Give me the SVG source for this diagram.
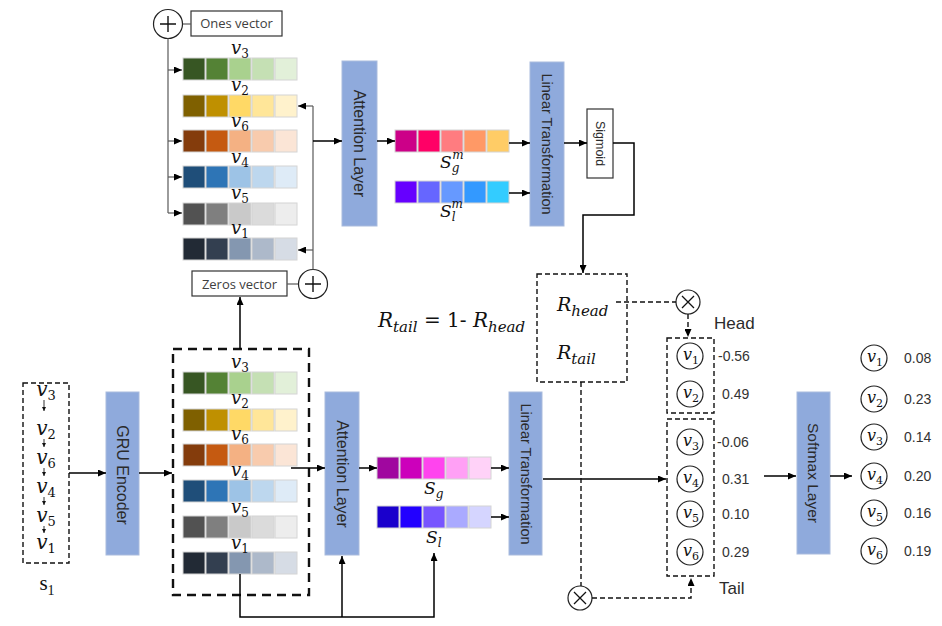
<svg xmlns="http://www.w3.org/2000/svg" width="942" height="626" viewBox="0 0 942 626">
<defs>
<style>
.blk{fill:#8faadc;stroke:#a9bbdd;stroke-width:1}
.bt{font-family:"Liberation Sans","Noto Sans",sans-serif;fill:#2b2b2b}
.gt{font-family:"Open Sans","Noto Sans",sans-serif;fill:#404040;font-size:13px}
.num{font-family:"Liberation Sans","Noto Sans",sans-serif;fill:#333;font-size:14px}
.m{font-family:"DejaVu Serif","Liberation Serif",serif;font-style:italic;fill:#111}
.ln{stroke:#000;stroke-width:1.5;fill:none}
.gl{stroke:#595959;stroke-width:1.2;fill:none}
.ds{stroke:#111;stroke-width:1.4;stroke-dasharray:5 3;fill:none}
.bx{fill:#fff;stroke:#333;stroke-width:1.2}
.cb{fill:none;stroke:#222;stroke-width:1.2}
.cell rect{stroke:#d4d4d4;stroke-width:1}
</style>
<marker id="ah" viewBox="0 0 8 7" refX="8" refY="3.5" markerWidth="8" markerHeight="7" markerUnits="userSpaceOnUse" orient="auto"><path d="M0,0 L8,3.5 L0,7 z" fill="#000"/></marker>
<marker id="as" viewBox="0 0 5 5" refX="5" refY="2.5" markerWidth="4" markerHeight="4" markerUnits="userSpaceOnUse" orient="auto"><path d="M0,0 L5,2.5 L0,5 z" fill="#111"/></marker>
</defs>
<rect width="942" height="626" fill="#fff"/>

<g id="ones">
<circle cx="168" cy="24" r="14.5" class="cb"/>
<path d="M160,24 H176 M168,16 V32" stroke="#111" stroke-width="1.4"/>
<rect x="191" y="11" width="91" height="25" class="bx"/>
<text x="236.5" y="28" class="gt" text-anchor="middle">Ones vector</text>
</g>
<g id="zeros">
<circle cx="313" cy="284" r="14.5" class="cb"/>
<path d="M305,284 H321 M313,276 V292" stroke="#111" stroke-width="1.4"/>
<rect x="192" y="271" width="95" height="25" class="bx"/>
<text x="239.5" y="288.5" class="gt" text-anchor="middle">Zeros vector</text>
</g>

<g id="top-rows">
<g class="cell" transform="translate(183,58)"><rect x="0" width="22" height="22" fill="#375623"/><rect x="23" width="22" height="22" fill="#548235"/><rect x="46" width="22" height="22" fill="#a9d18e"/><rect x="69" width="22" height="22" fill="#c5e0b4"/><rect x="92" width="22" height="22" fill="#e2f0d9"/></g>
<g class="cell" transform="translate(183,95)"><rect x="0" width="22" height="22" fill="#7f6000"/><rect x="23" width="22" height="22" fill="#bf9000"/><rect x="46" width="22" height="22" fill="#ffd966"/><rect x="69" width="22" height="22" fill="#ffe699"/><rect x="92" width="22" height="22" fill="#fff2cc"/></g>
<g class="cell" transform="translate(183,130)"><rect x="0" width="22" height="22" fill="#843c0c"/><rect x="23" width="22" height="22" fill="#c55a11"/><rect x="46" width="22" height="22" fill="#f4b183"/><rect x="69" width="22" height="22" fill="#f8cbad"/><rect x="92" width="22" height="22" fill="#fbe5d6"/></g>
<g class="cell" transform="translate(183,166)"><rect x="0" width="22" height="22" fill="#1f4e79"/><rect x="23" width="22" height="22" fill="#2e75b6"/><rect x="46" width="22" height="22" fill="#9dc3e6"/><rect x="69" width="22" height="22" fill="#bdd7ee"/><rect x="92" width="22" height="22" fill="#deebf7"/></g>
<g class="cell" transform="translate(183,203)"><rect x="0" width="22" height="22" fill="#525252"/><rect x="23" width="22" height="22" fill="#7f7f7f"/><rect x="46" width="22" height="22" fill="#c9c9c9"/><rect x="69" width="22" height="22" fill="#dbdbdb"/><rect x="92" width="22" height="22" fill="#ededed"/></g>
<g class="cell" transform="translate(183,238)"><rect x="0" width="22" height="22" fill="#222a35"/><rect x="23" width="22" height="22" fill="#333f50"/><rect x="46" width="22" height="22" fill="#8497b0"/><rect x="69" width="22" height="22" fill="#adb9ca"/><rect x="92" width="22" height="22" fill="#d6dce5"/></g>
<g class="m" font-size="18" text-anchor="middle">
<text x="240" y="54">v<tspan font-size="12" font-style="normal" dy="4">3</tspan></text>
<text x="240" y="91">v<tspan font-size="12" font-style="normal" dy="4">2</tspan></text>
<text x="240" y="127">v<tspan font-size="12" font-style="normal" dy="4">6</tspan></text>
<text x="240" y="163">v<tspan font-size="12" font-style="normal" dy="4">4</tspan></text>
<text x="240" y="199">v<tspan font-size="12" font-style="normal" dy="4">5</tspan></text>
<text x="240" y="234">v<tspan font-size="12" font-style="normal" dy="4">1</tspan></text>
</g>
</g>

<g id="att-top"><rect x="342" y="61" width="35" height="165" class="blk"/><text class="bt" font-size="16" transform="translate(359.5,143.5) rotate(90)" text-anchor="middle" dominant-baseline="central">Attention Layer</text></g>
<g id="sgm">
<g class="cell" transform="translate(395,130)"><rect x="0" width="22" height="22" fill="#cc0088"/><rect x="23" width="22" height="22" fill="#ff0066"/><rect x="46" width="22" height="22" fill="#ff7c80"/><rect x="69" width="22" height="22" fill="#ff9966"/><rect x="92" width="22" height="22" fill="#ffcc66"/></g>
<text class="m" x="440" y="168" font-size="17">S<tspan font-size="12" dy="4">g</tspan><tspan font-size="12" dx="-7" dy="-13">m</tspan></text>
</g>
<g id="slm">
<g class="cell" transform="translate(395,181)"><rect x="0" width="22" height="22" fill="#6600ff"/><rect x="23" width="22" height="22" fill="#6666ff"/><rect x="46" width="22" height="22" fill="#6699ff"/><rect x="69" width="22" height="22" fill="#3399ff"/><rect x="92" width="22" height="22" fill="#33ccff"/></g>
<text class="m" x="440" y="217" font-size="17">S<tspan font-size="12" dy="4">l</tspan><tspan font-size="12" dx="-4" dy="-13">m</tspan></text>
</g>
<g id="lt-top"><rect x="530" y="62" width="34" height="164" class="blk"/><text class="bt" font-size="14.5" transform="translate(547,144) rotate(90)" text-anchor="middle" dominant-baseline="central">Linear Transformation</text></g>
<g id="sigmoid"><rect x="587" y="109" width="26" height="69" class="bx"/><text class="bt" font-size="12.5" transform="translate(600,143.5) rotate(90)" text-anchor="middle" dominant-baseline="central">Sigmoid</text></g>

<g id="rbox">
<rect x="537" y="274" width="90" height="108" class="ds" stroke-width="1.2" stroke-dasharray="4 3"/>
<text class="m" x="557" y="311" font-size="19">R<tspan font-size="15" dy="5">head</tspan></text>
<text class="m" x="557" y="359" font-size="19">R<tspan font-size="15" dy="5">tail</tspan></text>
</g>
<text id="formula" class="m" x="378" y="327" font-size="20">R<tspan font-size="15" dy="5">tail</tspan><tspan font-style="normal" dy="-5"> = 1- </tspan>R<tspan font-size="15" dy="5">head</tspan></text>

<g id="mul-head"><circle cx="688" cy="302" r="12" class="cb"/><path d="M682,296 L694,308 M694,296 L682,308" stroke="#111" stroke-width="1.3"/></g>
<g id="mul-tail"><circle cx="580" cy="598" r="12" class="cb"/><path d="M574,592 L586,604 M586,592 L574,604" stroke="#111" stroke-width="1.3"/></g>

<g id="head">
<rect x="667" y="338" width="47" height="75" class="ds" stroke-width="1.2" stroke-dasharray="4 3"/>
<text class="bt" x="714" y="329" font-size="17">Head</text>
<circle cx="690" cy="356" r="13" class="cb"/><text class="m" x="683" y="360" font-size="16">v<tspan font-size="11" font-style="normal" dy="4">1</tspan></text>
<circle cx="690" cy="394" r="13" class="cb"/><text class="m" x="683" y="398" font-size="16">v<tspan font-size="11" font-style="normal" dy="4">2</tspan></text>
<text class="num" x="718" y="361">-0.56</text>
<text class="num" x="722" y="399">0.49</text>
</g>
<g id="tail">
<rect x="667" y="419" width="47" height="157" class="ds" stroke-width="1.2" stroke-dasharray="4 3"/>
<text class="bt" x="719" y="594" font-size="17">Tail</text>
<circle cx="690" cy="442" r="13" class="cb"/><text class="m" x="683" y="446" font-size="16">v<tspan font-size="11" font-style="normal" dy="4">3</tspan></text>
<circle cx="690" cy="479" r="13" class="cb"/><text class="m" x="683" y="483" font-size="16">v<tspan font-size="11" font-style="normal" dy="4">4</tspan></text>
<circle cx="690" cy="514" r="13" class="cb"/><text class="m" x="683" y="518" font-size="16">v<tspan font-size="11" font-style="normal" dy="4">5</tspan></text>
<circle cx="690" cy="552" r="13" class="cb"/><text class="m" x="683" y="556" font-size="16">v<tspan font-size="11" font-style="normal" dy="4">6</tspan></text>
<text class="num" x="717" y="447">-0.06</text>
<text class="num" x="722" y="484">0.31</text>
<text class="num" x="722" y="519">0.10</text>
<text class="num" x="722" y="557">0.29</text>
</g>

<g id="softmax"><rect x="797" y="392" width="33" height="162" class="blk"/><text class="bt" font-size="15.5" transform="translate(813.5,473) rotate(90)" text-anchor="middle" dominant-baseline="central">Softmax Layer</text></g>
<g id="result">
<circle cx="874" cy="358" r="13" class="cb"/><text class="m" x="867" y="362" font-size="16">v<tspan font-size="11" font-style="normal" dy="4">1</tspan></text>
<circle cx="874" cy="399" r="13" class="cb"/><text class="m" x="867" y="403" font-size="16">v<tspan font-size="11" font-style="normal" dy="4">2</tspan></text>
<circle cx="874" cy="437" r="13" class="cb"/><text class="m" x="867" y="441" font-size="16">v<tspan font-size="11" font-style="normal" dy="4">3</tspan></text>
<circle cx="874" cy="476" r="13" class="cb"/><text class="m" x="867" y="480" font-size="16">v<tspan font-size="11" font-style="normal" dy="4">4</tspan></text>
<circle cx="874" cy="513" r="13" class="cb"/><text class="m" x="867" y="517" font-size="16">v<tspan font-size="11" font-style="normal" dy="4">5</tspan></text>
<circle cx="874" cy="551" r="13" class="cb"/><text class="m" x="867" y="555" font-size="16">v<tspan font-size="11" font-style="normal" dy="4">6</tspan></text>
<g class="num"><text x="904" y="363">0.08</text><text x="904" y="404">0.23</text><text x="904" y="442">0.14</text><text x="904" y="481">0.20</text><text x="904" y="518">0.16</text><text x="904" y="556">0.19</text></g>
</g>

<g id="s1">
<rect x="23" y="383" width="46" height="180" class="ds" stroke-width="1.2" stroke-dasharray="4 3"/>
<g class="m" font-size="20" text-anchor="middle">
<text x="46" y="396">v<tspan font-size="13" font-style="normal" dy="4">3</tspan></text>
<text x="46" y="435">v<tspan font-size="13" font-style="normal" dy="4">2</tspan></text>
<text x="46" y="464">v<tspan font-size="13" font-style="normal" dy="4">6</tspan></text>
<text x="46" y="493">v<tspan font-size="13" font-style="normal" dy="4">4</tspan></text>
<text x="46" y="522">v<tspan font-size="13" font-style="normal" dy="4">5</tspan></text>
<text x="46" y="549">v<tspan font-size="13" font-style="normal" dy="4">1</tspan></text>
</g>
<g stroke="#333" stroke-width="1" marker-end="url(#as)">
<line x1="44" y1="400" x2="44" y2="411"/><line x1="44" y1="439" x2="44" y2="447"/><line x1="44" y1="468" x2="44" y2="476"/><line x1="44" y1="497" x2="44" y2="505"/><line x1="44" y1="526" x2="44" y2="533"/>
</g>
<text x="47" y="590" font-family="Liberation Serif,serif" font-size="21" text-anchor="middle" fill="#111">s<tspan font-size="14" dy="5">1</tspan></text>
</g>
<g id="gru"><rect x="106" y="392" width="33" height="163" class="blk"/><text class="bt" font-size="16" transform="translate(122.5,475) rotate(90)" text-anchor="middle" dominant-baseline="central">GRU Encoder</text></g>

<g id="bottom-rows">
<rect x="173" y="349" width="136" height="246" fill="none" stroke="#111" stroke-width="2.4" stroke-dasharray="9 6"/>
<g class="cell" transform="translate(183,372)"><rect x="0" width="22" height="22" fill="#375623"/><rect x="23" width="22" height="22" fill="#548235"/><rect x="46" width="22" height="22" fill="#a9d18e"/><rect x="69" width="22" height="22" fill="#c5e0b4"/><rect x="92" width="22" height="22" fill="#e2f0d9"/></g>
<g class="cell" transform="translate(183,409)"><rect x="0" width="22" height="22" fill="#7f6000"/><rect x="23" width="22" height="22" fill="#bf9000"/><rect x="46" width="22" height="22" fill="#ffd966"/><rect x="69" width="22" height="22" fill="#ffe699"/><rect x="92" width="22" height="22" fill="#fff2cc"/></g>
<g class="cell" transform="translate(183,444)"><rect x="0" width="22" height="22" fill="#843c0c"/><rect x="23" width="22" height="22" fill="#c55a11"/><rect x="46" width="22" height="22" fill="#f4b183"/><rect x="69" width="22" height="22" fill="#f8cbad"/><rect x="92" width="22" height="22" fill="#fbe5d6"/></g>
<g class="cell" transform="translate(183,480)"><rect x="0" width="22" height="22" fill="#1f4e79"/><rect x="23" width="22" height="22" fill="#2e75b6"/><rect x="46" width="22" height="22" fill="#9dc3e6"/><rect x="69" width="22" height="22" fill="#bdd7ee"/><rect x="92" width="22" height="22" fill="#deebf7"/></g>
<g class="cell" transform="translate(183,516)"><rect x="0" width="22" height="22" fill="#525252"/><rect x="23" width="22" height="22" fill="#7f7f7f"/><rect x="46" width="22" height="22" fill="#c9c9c9"/><rect x="69" width="22" height="22" fill="#dbdbdb"/><rect x="92" width="22" height="22" fill="#ededed"/></g>
<g class="cell" transform="translate(183,552)"><rect x="0" width="22" height="22" fill="#222a35"/><rect x="23" width="22" height="22" fill="#333f50"/><rect x="46" width="22" height="22" fill="#8497b0"/><rect x="69" width="22" height="22" fill="#adb9ca"/><rect x="92" width="22" height="22" fill="#d6dce5"/></g>
<g class="m" font-size="18" text-anchor="middle">
<text x="240" y="368">v<tspan font-size="12" font-style="normal" dy="4">3</tspan></text>
<text x="240" y="404">v<tspan font-size="12" font-style="normal" dy="4">2</tspan></text>
<text x="240" y="440">v<tspan font-size="12" font-style="normal" dy="4">6</tspan></text>
<text x="240" y="476">v<tspan font-size="12" font-style="normal" dy="4">4</tspan></text>
<text x="240" y="513">v<tspan font-size="12" font-style="normal" dy="4">5</tspan></text>
<text x="240" y="549">v<tspan font-size="12" font-style="normal" dy="4">1</tspan></text>
</g>
</g>

<g id="att-bot"><rect x="325" y="392" width="34" height="163" class="blk"/><text class="bt" font-size="16" transform="translate(342,474) rotate(90)" text-anchor="middle" dominant-baseline="central">Attention Layer</text></g>
<g id="sg">
<g class="cell" transform="translate(377,457)"><rect x="0" width="22" height="22" fill="#a0079f"/><rect x="23" width="22" height="22" fill="#cc00bb"/><rect x="46" width="22" height="22" fill="#ff44ee"/><rect x="69" width="22" height="22" fill="#ffa0f5"/><rect x="92" width="22" height="22" fill="#ffd2f8"/></g>
<text class="m" x="424" y="494" font-size="17">S<tspan font-size="12" dy="4">g</tspan></text>
</g>
<g id="sl">
<g class="cell" transform="translate(377,506)"><rect x="0" width="22" height="22" fill="#1a00cc"/><rect x="23" width="22" height="22" fill="#2200ff"/><rect x="46" width="22" height="22" fill="#7755ff"/><rect x="69" width="22" height="22" fill="#aaaaff"/><rect x="92" width="22" height="22" fill="#d5d5ff"/></g>
<text class="m" x="426" y="543" font-size="17">S<tspan font-size="12" dy="4">l</tspan></text>
</g>
<g id="lt-bot"><rect x="509" y="392" width="33" height="163" class="blk"/><text class="bt" font-size="14.5" transform="translate(525.5,474) rotate(90)" text-anchor="middle" dominant-baseline="central">Linear Transformation</text></g>

<g id="connectors">
<line x1="183" y1="24" x2="191" y2="24" class="gl"/>
<line x1="287" y1="284" x2="298" y2="284" class="gl"/>
<path d="M168,38.5 V213" class="gl"/>
<g class="gl" marker-end="url(#ah)">
<line x1="168" y1="70" x2="182" y2="70"/><line x1="168" y1="141" x2="182" y2="141"/><line x1="168" y1="177" x2="182" y2="177"/><line x1="168" y1="213" x2="182" y2="213"/>
</g>
<path d="M313,269.5 V106" class="gl"/>
<g class="gl" marker-end="url(#ah)">
<line x1="313" y1="106" x2="298" y2="106"/><line x1="313" y1="250" x2="298" y2="250"/>
</g>
<g class="ln" marker-end="url(#ah)">
<line x1="313" y1="141" x2="342" y2="141"/>
<line x1="377" y1="141" x2="395" y2="141"/>
<line x1="509" y1="143" x2="530" y2="143"/>
<line x1="509" y1="193" x2="530" y2="193"/>
<line x1="564" y1="143" x2="587" y2="143"/>
<path d="M613,143 H634 V215 H583 V273"/>
<line x1="240" y1="349" x2="240" y2="297"/>
<line x1="69" y1="473" x2="106" y2="473"/>
<line x1="139" y1="473" x2="172" y2="473"/>
<line x1="291" y1="468" x2="325" y2="468"/>
<line x1="359" y1="468" x2="377" y2="468"/>
<line x1="491" y1="468" x2="509" y2="468"/>
<line x1="491" y1="517" x2="509" y2="517"/>
<line x1="543" y1="479" x2="666" y2="479"/>
<line x1="764" y1="476" x2="796" y2="476"/>
<line x1="830" y1="476" x2="852" y2="476"/>
<path d="M240,574 V617 H434 V553"/>
<path d="M342,617 V556"/>
</g>
<line x1="616" y1="302" x2="676" y2="302" class="ds"/>
<path d="M688,314 V337" class="ds" marker-end="url(#ah)"/>
<line x1="581" y1="382" x2="581" y2="586" class="ds"/>
<path d="M592,598 H691 V578" class="ds" marker-end="url(#ah)"/>
</g>
</svg>
